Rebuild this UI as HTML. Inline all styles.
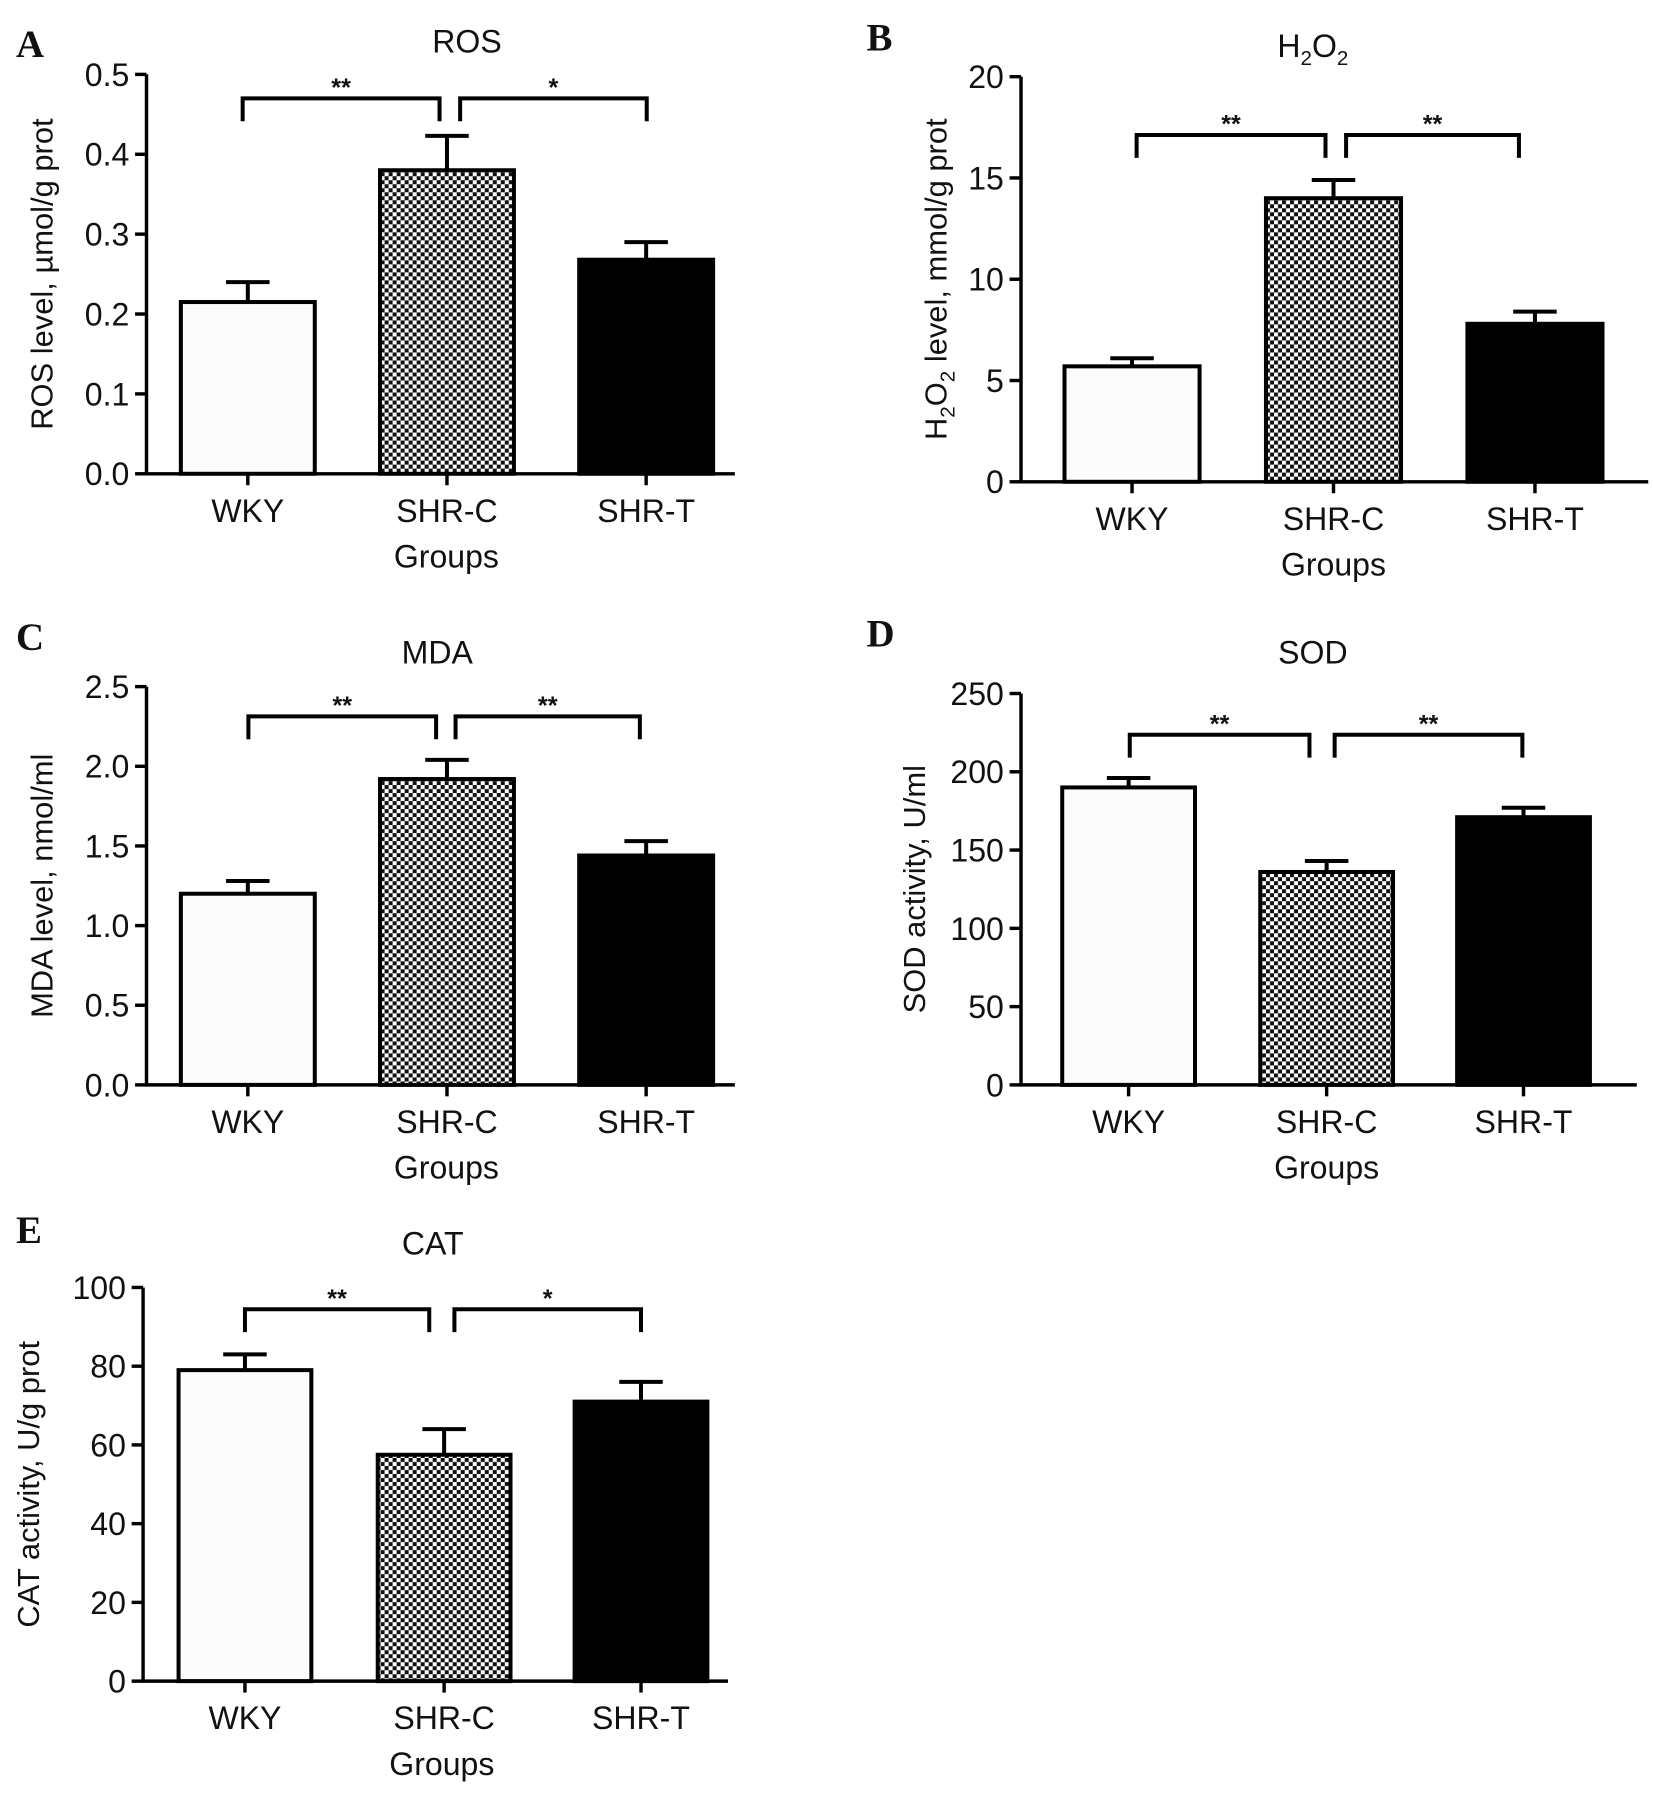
<!DOCTYPE html>
<html><head><meta charset="utf-8"><style>
html,body{margin:0;padding:0;background:#fff}
svg{display:block}
text{font-family:"Liberation Sans",sans-serif;fill:#111}
</style></head><body>
<svg id="fig" width="1654" height="1799" viewBox="0 0 1445 1572" preserveAspectRatio="none" xmlns="http://www.w3.org/2000/svg">
<defs>
<pattern id="chk" patternUnits="userSpaceOnUse" width="7" height="7">
<rect width="7" height="7" fill="#fff"/>
<rect x="0" y="0" width="3.5" height="3.5" fill="#111"/>
<rect x="3.5" y="3.5" width="3.5" height="3.5" fill="#111"/>
</pattern>
</defs>
</svg>
<script>
const categories = ["WKY","SHR-C","SHR-T"];
const rosValues = [0.215,0.38,0.268];
const rosErrors = [0.025,0.043,0.022];
const rosTicks = [0,0.1,0.2,0.3,0.4,0.5];
const h2o2Values = [5.7,14.0,7.8];
const h2o2Errors = [0.4,0.9,0.6];
const h2o2Ticks = [0,5,10,15,20];
const mdaValues = [1.2,1.92,1.44];
const mdaErrors = [0.08,0.12,0.09];
const mdaTicks = [0,0.5,1.0,1.5,2.0,2.5];
const sodValues = [190,136,171];
const sodErrors = [6,7,6];
const sodTicks = [0,50,100,150,200,250];
const catValues = [79,57.5,71];
const catErrors = [4,6.5,5];
const catTicks = [0,20,40,60,80,100];
const sigA = ["**","*"], sigB = ["**","**"], sigC = ["**","**"], sigD = ["**","**"], sigE = ["**","*"];

const svg = document.getElementById('fig');
const NS = "http://www.w3.org/2000/svg";
function mk(tag, attrs, parent){const e=document.createElementNS(NS,tag);for(const k in attrs)e.setAttribute(k,attrs[k]);(parent||svg).appendChild(e);return e;}

function panel(cfg){
  const g = mk('g',{});
  
  
  const max = cfg.ticks[cfg.ticks.length-1];
  const y = v => cfg.y0 - (v/max)*(cfg.y0-cfg.yTop);
  const fills = ['#fcfcfc','url(#chk)','#000'];
  cfg.values.forEach((v,i)=>{
    const x = cfg.bars[i];
    const b = mk('rect',{x:x,y:y(v),width:cfg.bw,height:cfg.y0-y(v),fill:fills[i],stroke:'#000','stroke-width':3.5},g);
    
    
    const cx = x+cfg.bw/2, top=y(v+cfg.errors[i]);
    const e = mk('path',{d:`M${cx} ${y(v)}V${top}M${cx-19} ${top}H${cx+19}`,stroke:'#000','stroke-width':3.5,fill:'none'},g);
    
    
    mk('line',{x1:cx,x2:cx,y1:cfg.y0,y2:cfg.y0+10,stroke:'#000','stroke-width':3},g);
    const lb = mk('text',{x:cx,y:cfg.y0+42,'text-anchor':'middle','font-size':28},g);
    lb.textContent = categories[i];
    
    
  });
  const ax = mk('path',{d:`M${cfg.ax} ${cfg.yTop}V${cfg.y0}H${cfg.axEnd}`,stroke:'#000','stroke-width':3,fill:'none'},g);
  
  
  cfg.ticks.forEach(t=>{
    mk('line',{x1:cfg.ax-10,x2:cfg.ax,y1:y(t),y2:y(t),stroke:'#000','stroke-width':3},g);
    const tl = mk('text',{x:cfg.ax-15,y:y(t)+10,'text-anchor':'end','font-size':28},g);
    tl.textContent = cfg.fmt(t);
    
    
  });
  cfg.brackets.forEach((br,i)=>{
    const p = mk('path',{d:`M${br[0]} ${cfg.by+20}V${cfg.by}H${br[1]}V${cfg.by+20}`,stroke:'#000','stroke-width':3.5,fill:'none'},g);
    
    
    const s = mk('text',{x:(br[0]+br[1])/2,y:cfg.by-2,'text-anchor':'middle','font-size':22,'font-weight':'bold'},g);
    s.textContent = cfg.sig[i];
    
    
  });
  const t = mk('text',{x:cfg.tx,y:cfg.ty,'text-anchor':'middle','font-size':28},g);
  t.innerHTML = cfg.title;
  
  
  const L = mk('text',{x:cfg.lx,y:cfg.ly,'font-size':34,'font-weight':'bold',style:'font-family:"Liberation Serif",serif'},g);
  L.textContent = cfg.id.toUpperCase();
  
  
  const yt = mk('text',{x:0,y:0,'text-anchor':'middle','font-size':27,transform:`translate(${cfg.ytx},${(cfg.y0+cfg.yTop)/2}) rotate(-90)`},g);
  yt.innerHTML = cfg.ytitle;
  
  
  if(cfg.groups){
    const gt = mk('text',{x:cfg.gx,y:cfg.y0+82,'text-anchor':'middle','font-size':28},g);
    gt.textContent = 'Groups';
    
    
  }
}
const f1 = t=>t.toFixed(1), f0 = t=>String(t);
panel({id:'a',values:rosValues,errors:rosErrors,ticks:rosTicks,fmt:f1,ax:128,axEnd:642,y0:414,yTop:65,bars:[158,332,506],bw:117,by:86,brackets:[[212,384],[402,565]],sig:sigA,title:'ROS',tx:408,ty:46,lx:14,ly:50,ytx:46,ytitle:'ROS level, µmol/g prot',groups:true,gx:390});
panel({id:'b',values:h2o2Values,errors:h2o2Errors,ticks:h2o2Ticks,fmt:f0,ax:892,axEnd:1440,y0:421,yTop:67,bars:[930,1106,1282],bw:118,by:118,brackets:[[993,1158],[1176,1327]],sig:sigB,title:'H<tspan font-size="18" dy="7">2</tspan><tspan dy="-7">O</tspan><tspan font-size="18" dy="7">2</tspan>',tx:1147,ty:50,lx:757,ly:44,ytx:827,ytitle:'H<tspan font-size="18" dy="7">2</tspan><tspan dy="-7">O</tspan><tspan font-size="18" dy="7">2</tspan><tspan dy="-7"> level, mmol/g prot</tspan>',groups:true,gx:1165});
panel({id:'c',values:mdaValues,errors:mdaErrors,ticks:mdaTicks,fmt:f1,ax:128,axEnd:642,y0:948,yTop:600,bars:[158,332,506],bw:117,by:626,brackets:[[217,381],[398,559]],sig:sigC,title:'MDA',tx:382,ty:580,lx:14,ly:568,ytx:46,ytitle:'MDA level, nmol/ml',groups:true,gx:390});
panel({id:'d',values:sodValues,errors:sodErrors,ticks:sodTicks,fmt:f0,ax:892,axEnd:1430,y0:948,yTop:606,bars:[928,1101,1273],bw:116,by:642,brackets:[[987,1144],[1166,1330]],sig:sigD,title:'SOD',tx:1147,ty:580,lx:757,ly:565,ytx:808,ytitle:'SOD activity,  U/ml',groups:true,gx:1159});
panel({id:'e',values:catValues,errors:catErrors,ticks:catTicks,fmt:f0,ax:125,axEnd:636,y0:1469,yTop:1125,bars:[156,330,502],bw:116,by:1144,brackets:[[214,375],[397,560]],sig:sigE,title:'CAT',tx:378,ty:1096,lx:14,ly:1086,ytx:34,ytitle:'CAT activity,  U/g prot',groups:true,gx:386});
</script>
</body></html>
